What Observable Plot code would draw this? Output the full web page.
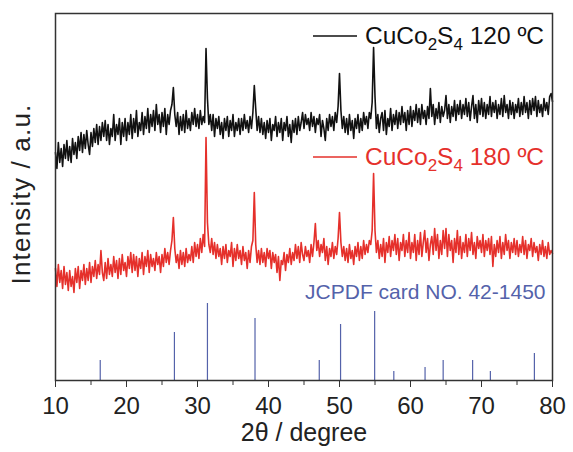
<!DOCTYPE html>
<html><head><meta charset="utf-8">
<script src="https://cdn.jsdelivr.net/npm/d3@7"></script>
<script src="https://cdn.jsdelivr.net/npm/@observablehq/plot@0.6"></script>
<style>body{margin:0;background:#fff}svg{font-family:"Liberation Sans",Arial,sans-serif}</style>
</head><body><div id="chart"></div><script>
// 2θ sampling of the scans
const twoThetaStart = 10, twoThetaStep = 0.2;
// CuCo2S4 120 °C (arbitrary intensity units), one row per degree
const cuco120 = [
228,212,238,218,232, 214,236,222,240,220, 234,218,242,226,238, 222,244,230,248,228, 246,232,250,236,226,
248,234,252,238,256, 236,254,240,258,244, 260,240,256,236,252, 244,266,240,256,246, 262,236,258,244,262,
240,258,246,266,242, 262,248,270,244,258, 250,268,246,264,252, 272,248,266,254,270, 250,276,256,266,248,
268,254,272,246,266, 256,270,276,293,266, 254,268,246,264,250, 266,248,270,252,262, 250,268,256,272,254,
266,252,270,256,264, 258,332,282,256,266, 250,266,244,262,252, 264,246,258,242,262, 250,264,244,260,250,
266,244,258,250,262, 246,262,250,266,252, 260,248,264,252,268, 295,272,250,264,248, 262,246,258,242,260,
248,262,240,256,250, 264,244,258,248,262, 240,258,250,264,244, 256,238,260,248,262, 246,264,250,258,268,
252,266,256,262,250, 268,254,264,248,262, 256,266,244,260,252, 240,262,250,266,254, 264,250,268,258,274,
307,270,252,264,248, 262,246,266,250,260, 242,262,252,266,248, 262,250,268,256,264, 252,268,262,278,333,
284,252,266,248,262, 268,250,270,246,262, 254,272,250,266,256, 270,252,268,256,274, 258,268,250,270,256,
274,254,270,260,276, 258,272,256,276,262, 270,256,274,262,292, 264,276,256,272,262, 278,258,274,264,270,
285,262,276,258,274, 264,280,260,276,266, 280,262,276,266,282, 264,278,260,274,285, 262,276,258,280,266,
282,264,278,262,276, 266,284,264,278,268, 280,262,276,266,282, 264,285,268,276,262, 280,266,278,262,276,
268,282,264,278,266, 284,268,278,262,280, 266,282,270,284,264, 280,268,276,264,282, 270,278,266,284,287,
279];
// CuCo2S4 180 °C, one row per degree
const cuco180 = [
112,94,116,98,110, 92,114,96,108,90, 110,94,104,88,112, 98,114,92,110,100, 116,96,112,100,118,
98,114,104,120,102, 116,106,130,108,100, 118,102,122,106,116, 104,124,108,120,102, 122,106,126,110,118,
104,124,112,128,108, 126,110,124,104,122, 112,128,106,124,114, 130,108,126,114,122, 110,128,116,124,108,
126,114,132,118,128, 116,130,140,163,132, 118,126,112,130,116, 128,114,132,118,126, 120,134,118,138,124,
136,122,142,128,146, 134,243,158,136,128, 142,126,138,122,136, 124,132,116,134,122, 136,118,130,124,138,
114,132,120,136,122, 130,116,134,120,128, 112,130,118,134,140, 188,136,118,130,116, 132,118,128,114,132,
122,130,112,128,118, 126,108,124,100,120, 116,128,110,126,118, 132,116,128,120,136, 122,134,118,138,126,
120,134,124,130,118, 136,124,138,157,130, 140,124,136,128,142, 120,134,116,132,124, 138,122,134,126,142,
168,138,124,134,120, 132,118,136,122,130, 116,134,124,138,120, 134,122,140,126,136, 128,140,136,150,207,
150,128,140,122,136, 124,142,118,138,128, 144,124,140,130,146, 126,142,120,138,130, 146,124,140,128,148,
122,138,128,146,120, 140,126,148,124,138, 150,128,142,120,136, 144,126,152,130,146, 122,140,126,150,132,
152,124,146,130,140, 118,142,128,150,126, 144,122,138,128,146, 124,142,130,148,126, 138,122,144,132,140,
128,146,124,140,130, 142,126,144,114,136, 124,140,128,144,122, 138,126,146,130,140, 122,138,128,142,126,
140,124,136,128,144, 126,140,122,136,130, 142,124,138,128,134, 120,136,126,140,124, 134,122,138,126,130,
127];
// JCPDF card 42-1450 reference lines
const cardPositions = [16.3, 26.75, 31.4, 38.1, 47.15, 50.15, 54.95, 57.65, 62.05, 64.6, 68.75, 71.25, 77.45];
const cardIntensities = [20, 48, 77, 62, 20, 56, 69, 9, 13, 20, 20, 9, 27];
const xTicks = [10, 20, 30, 40, 50, 60, 70, 80];
const xMinorTicks = [15, 25, 35, 45, 55, 65, 75];
const seriesTemps = ["120 ºC", "180 ºC"];
const cardLabel = "JCPDF card NO. 42-1450";
const xTitle = "2θ / degree";
const yTitle = "Intensity / a.u.";

const rows120 = cuco120.map((v, i) => ({x: twoThetaStart + i * twoThetaStep, y: v}));
const rows180 = cuco180.map((v, i) => ({x: twoThetaStart + i * twoThetaStep, y: v}));
const cardRows = cardPositions.map((p, i) => ({x: p, y: cardIntensities[i]}));

const black = "#111111", red = "#e5302b", blue = "#5462aa";

const chart = Plot.plot({
  width: 573, height: 452,
  marginLeft: 55, marginRight: 21, marginTop: 13, marginBottom: 72,
  style: {fontSize: "22px", fontFamily: "Liberation Sans, Arial, sans-serif", color: "#222", background: "#fff"},
  x: {domain: [10, 80], label: null},
  y: {domain: [0, 367], axis: null},
  marks: [
    Plot.ruleX(cardRows, {x: "x", y1: 0, y2: "y", stroke: blue, strokeWidth: 1.2}),
    Plot.line(rows180, {x: "x", y: "y", stroke: red, strokeWidth: 1.6}),
    Plot.line(rows120, {x: "x", y: "y", stroke: black, strokeWidth: 1.6}),
    Plot.axisX({ticks: xMinorTicks, tickSize: 5, tickFormat: () => "", label: null, stroke: "#333"}),
    Plot.axisX({ticks: xTicks, tickSize: 7, tickPadding: 9, label: null, fontSize: 24, stroke: "#333"}),
    Plot.frame({stroke: "#333", strokeWidth: 1.5}),
    Plot.text([xTitle], {text: d => d, frameAnchor: "bottom", dy: 60, fontSize: 25, fill: "#222"}),
    Plot.text([yTitle], {text: d => d, frameAnchor: "left", textAnchor: "middle", dx: -34, dy: -3, rotate: -90, fontSize: 26, fill: "#222", className: "ytitle"}),
    Plot.text([cardLabel], {text: d => d, frameAnchor: "top-right", dx: -7, dy: 285, lineAnchor: "bottom", textAnchor: "end", fontSize: 21, fill: blue})
  ]
});
document.getElementById("chart").appendChild(chart);

const svg = d3.select(chart);
svg.selectAll(".ytitle text").attr("letter-spacing", 1.2);
function legendEntry(yLine, yBase, color, temp) {
  svg.append("line").attr("x1", 313).attr("x2", 357).attr("y1", yLine).attr("y2", yLine)
    .attr("stroke", color).attr("stroke-width", 1.4);
  const t = svg.append("text").attr("x", 365).attr("y", yBase).attr("fill", color)
    .attr("text-anchor", "start").attr("font-size", 24.5)
    .attr("font-family", "Liberation Sans, Arial, sans-serif");
  t.append("tspan").text("CuCo");
  t.append("tspan").attr("font-size", 17).attr("dy", 6).text("2");
  t.append("tspan").attr("dy", -6).text("S");
  t.append("tspan").attr("font-size", 17).attr("dy", 6).text("4");
  t.append("tspan").attr("dy", -6).text(" " + temp);
}
legendEntry(36, 44, black, seriesTemps[0]);
legendEntry(157, 165, red, seriesTemps[1]);
</script></body></html>
